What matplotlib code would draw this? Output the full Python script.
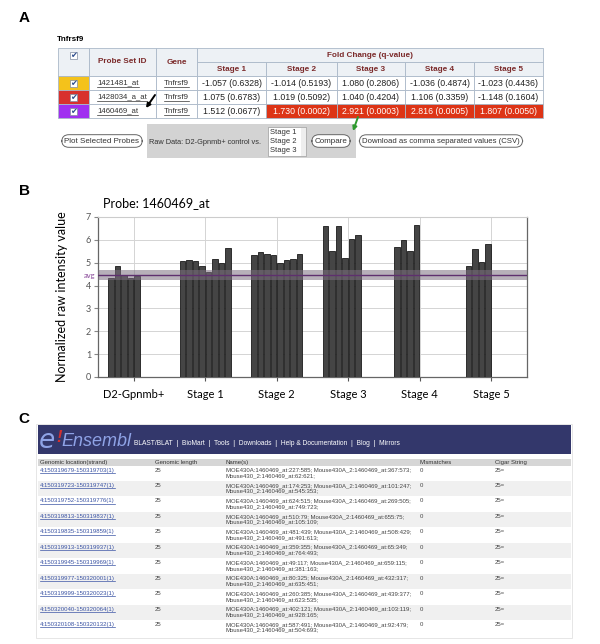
import numpy as np
import matplotlib
matplotlib.use('Agg')
import matplotlib.pyplot as plt
from matplotlib.patches import Rectangle

# ---- panel A data
gene = 'Tnfrsf9'
probe_ids = ['1421481_at', '1428034_a_at', '1460469_at']
row_colors = ['#f4c21b', '#d8312d', '#a02ff0']
stage_names = ['Stage 1', 'Stage 2', 'Stage 3', 'Stage 4', 'Stage 5']
fold_change = [['-1.057 (0.6328)', '-1.014 (0.5193)', '1.080 (0.2806)', '-1.036 (0.4874)', '-1.023 (0.4436)'],
               ['1.075 (0.6783)', '1.019 (0.5092)', '1.040 (0.4204)', '1.106 (0.3359)', '-1.148 (0.1604)'],
               ['1.512 (0.0677)', '1.730 (0.0002)', '2.921 (0.0003)', '2.816 (0.0005)', '1.807 (0.0050)']]
significant = [[False] * 5, [False] * 5, [False, True, True, True, True]]

# ---- panel B data
groups = ['D2-Gpnmb+', 'Stage 1', 'Stage 2', 'Stage 3', 'Stage 4', 'Stage 5']
d2_values = [4.32, 4.86, 4.45, 4.35, 4.44]
stage1_values = [5.07, 5.14, 5.07, 4.86, 4.61, 5.18, 4.99, 5.65]
stage2_values = [5.33, 5.46, 5.36, 5.33, 4.98, 5.10, 5.18, 5.40]
stage3_values = [6.59, 5.53, 6.59, 5.21, 6.02, 6.22]
stage4_values = [5.70, 6.00, 5.53, 6.66]
stage5_values = [4.85, 5.61, 5.05, 5.80]
avg_value = 4.46
avg_low, avg_high = 4.26, 4.66

# ---- panel C data
locations = ['4:150319679-150319703(1)', '4:150319723-150319747(1)', '4:150319752-150319776(1)',
             '4:150319813-150319837(1)', '4:150319835-150319859(1)', '4:150319913-150319937(1)',
             '4:150319945-150319969(1)', '4:150319977-150320001(1)', '4:150319999-150320023(1)',
             '4:150320040-150320064(1)', '4:150320108-150320132(1)']
names_1 = ['227:585', '174:253', '624:515', '510:79', '481:439', '359:355', '49:117', '80:325',
           '260:385', '402:121', '587:491']
names_2 = ['367:573', '101:247', '269:505', '655:75', '508:429', '65:349', '659:115', '432:317',
           '439:377', '103:119', '92:479']
names_3 = ['62:621', '545:353', '749:723', '105:109', '491:613', '764:493', '381:163', '635:451',
           '623:535', '928:165', '504:693']
menu_items = ['BLAST/BLAT', 'BioMart', 'Tools', 'Downloads', 'Help & Documentation', 'Blog', 'Mirrors']

plt.rcParams['font.family'] = ['Liberation Sans', 'DejaVu Sans']

fig = plt.figure(figsize=(6.0, 6.44), dpi=100)
ov = fig.add_axes([0, 0, 1, 1])
ov.set_xlim(0, 600)
ov.set_ylim(644, 0)
ov.axis('off')
renderer = fig.canvas.get_renderer()


def underline(t, color):
    bb = t.get_window_extent(renderer)
    (x0, y0), (x1, y1) = ov.transData.inverted().transform([[bb.x0, bb.y0], [bb.x1, bb.y1]])
    ov.plot([x0, x1], [y0 + 0.3, y0 + 0.3], color=color, lw=0.5)


def cell(x0, x1, y0, y1, fc, ec='#aab8c8'):
    ov.add_patch(Rectangle((x0, y0), x1 - x0, y1 - y0, fc=fc, ec=ec, lw=0.6))


def checkbox(cx, cy):
    ov.add_patch(Rectangle((cx - 3.5, cy - 3.5), 7, 7, fc='white', ec='#7f8ca0', lw=0.5))
    ov.text(cx + 0.3, cy + 0.2, '\u2714', color='#2f4f8f', fontsize=6, ha='center', va='center',
            family='DejaVu Sans')


# ================= panel A
ov.text(24, 18, 'A', fontsize=11, fontweight='bold', ha='center', va='center')
ov.text(57, 39, gene, fontsize=5.8, fontweight='bold', va='center')

col_x = [58, 89, 156, 197, 266, 337, 405, 474, 543]
row_y = [48, 62, 76, 90, 104, 118]
head_fc = '#edf1f5'
head_tc = '#7b2a2a'
fs_head = 5.9
fs_val = 6.3

cell(col_x[0], col_x[1], row_y[0], row_y[2], head_fc)
checkbox((col_x[0] + col_x[1]) / 2, 55)
cell(col_x[1], col_x[2], row_y[0], row_y[2], head_fc)
ov.text((col_x[1] + col_x[2]) / 2, 61, 'Probe Set ID', fontsize=fs_head, fontweight='bold',
        color=head_tc, ha='center', va='center')
cell(col_x[2], col_x[3], row_y[0], row_y[2], head_fc)
ov.text((col_x[2] + col_x[3]) / 2, 62, 'Gene', fontsize=fs_head, fontweight='bold',
        color=head_tc, ha='center', va='center')
cell(col_x[3], col_x[8], row_y[0], row_y[1], head_fc)
ov.text((col_x[3] + col_x[8]) / 2, 55, 'Fold Change (q-value)', fontsize=fs_head, fontweight='bold',
        color=head_tc, ha='center', va='center')
for j, s in enumerate(stage_names):
    cell(col_x[3 + j], col_x[4 + j], row_y[1], row_y[2], head_fc)
    ov.text((col_x[3 + j] + col_x[4 + j]) / 2, 69, s, fontsize=fs_head, fontweight='bold',
            color=head_tc, ha='center', va='center')

for i, pid in enumerate(probe_ids):
    y0, y1 = row_y[2 + i], row_y[3 + i]
    yc = (y0 + y1) / 2
    cell(col_x[0], col_x[1], y0, y1, row_colors[i])
    checkbox((col_x[0] + col_x[1]) / 2, yc)
    cell(col_x[1], col_x[2], y0, y1, 'white')
    t = ov.text(col_x[1] + 8, yc, pid, fontsize=5.6, color='#333333', va='center')
    underline(t, '#333333')
    cell(col_x[2], col_x[3], y0, y1, 'white')
    t = ov.text((col_x[2] + col_x[3]) / 2, yc, gene, fontsize=5.8, color='#333333', ha='center', va='center')
    underline(t, '#333333')
    for j in range(5):
        sig = significant[i][j]
        cell(col_x[3 + j], col_x[4 + j], y0, y1, '#dd3416' if sig else 'white')
        ov.text((col_x[3 + j] + col_x[4 + j]) / 2, yc, fold_change[i][j], fontsize=fs_val,
                color='white' if sig else '#222222', ha='center', va='center')

# buttons row
ov.add_patch(Rectangle((147, 124), 209, 34, fc='#d3d3d3', ec='none'))
btn = dict(boxstyle='round,pad=0.35,rounding_size=0.9', fc='white', ec='#666666', lw=0.7)
ov.text(102, 141, 'Plot Selected Probes', fontsize=5.8, color='#333333', ha='center', va='center', bbox=btn)
ov.text(149, 142, 'Raw Data: D2-Gpnmb+ control vs.', fontsize=5.3, color='#333333', va='center')
ov.add_patch(Rectangle((268, 127), 38, 29, fc='white', ec='#9a9a9a', lw=0.5))
ov.add_patch(Rectangle((301, 127.5), 4.5, 28, fc='#eeeeee', ec='none'))
for k, s in enumerate(stage_names[:3]):
    ov.text(270, 132 + k * 9, s, fontsize=5.5, color='#333333', va='center')
ov.text(331, 141, 'Compare', fontsize=5.8, color='#333333', ha='center', va='center', bbox=btn)
ov.text(441, 141, 'Download as comma separated values (CSV)', fontsize=5.6, color='#333333',
        ha='center', va='center', bbox=btn)
ov.annotate('', xy=(146, 108), xytext=(155, 95),
            arrowprops=dict(arrowstyle='-|>', mutation_scale=6, color='black', lw=1.4,
                            shrinkA=0, shrinkB=0))
ov.annotate('', xy=(353, 131), xytext=(358, 117),
            arrowprops=dict(arrowstyle='-|>', mutation_scale=6, color='#2e9a2e', lw=1.4,
                            shrinkA=0, shrinkB=0))

# ================= panel B
ov.text(24, 191, 'B', fontsize=11, fontweight='bold', ha='center', va='center')
ax = fig.add_axes([98 / 600, 1 - 377 / 644, (527 - 98) / 600, (377 - 217) / 644])
series = [d2_values, stage1_values, stage2_values, stage3_values, stage4_values, stage5_values]
slot = 0.091
for g, vals in enumerate(series):
    xs = [g - 4 * slot + (k + 0.5) * slot for k in range(len(vals))]
    ax.bar(xs, vals, width=0.072, color='#454545', edgecolor='#1a1a1a', linewidth=0.6, zorder=3)
ax.axhspan(avg_low, avg_high, color='#7d6f80', alpha=0.55, lw=0, zorder=4)
ax.axhline(avg_value, color='#5e2f6e', lw=1.0, zorder=5)
ax.text(-0.53, avg_value, 'avg', fontsize=5.5, color='#8a4a9a', ha='right', va='center',
        family=['Lato', 'DejaVu Sans'])
ax.set_xlim(-0.5, 5.5)
ax.set_ylim(0, 7)
ax.set_xticks(range(len(groups)))
ax.set_xticklabels(groups, family=['Lato', 'DejaVu Sans'], fontsize=8)
ax.set_yticks(range(8))
ax.set_yticklabels([str(v) for v in range(8)], family=['Lato', 'DejaVu Sans'], fontsize=6.5, color='#555555')
ax.grid(True, color='#d4d4d4', lw=0.7, zorder=0)
ax.tick_params(axis='x', length=3, color='#555555', pad=6)
ax.tick_params(axis='y', length=3, color='#888888', pad=2)
for side in ['left', 'bottom', 'right']:
    ax.spines[side].set_color('#666666')
    ax.spines[side].set_linewidth(0.9)
ax.spines['top'].set_color('#cccccc')
ax.set_ylabel('Normalized raw intensity value', family=['Lato', 'DejaVu Sans'], fontsize=9, labelpad=13)
ax.set_title('Probe: 1460469_at', loc='left', family=['Lato', 'DejaVu Sans'], fontsize=9,
             x=0.012, pad=7)

# ================= panel C
ov.text(24, 419, 'C', fontsize=11, fontweight='bold', ha='center', va='center')
ov.add_patch(Rectangle((36, 424), 536, 214, fc='white', ec='#e2e2e2', lw=0.6))
ov.add_patch(Rectangle((38, 425), 533, 29, fc='#33376b', ec='none'))
ov.text(39, 441, 'e', fontsize=19, style='italic', color='#8fa3e6', va='center', family='DejaVu Sans')
ov.text(56, 437, '!', fontsize=12, style='italic', color='#d03030', va='center', fontweight='bold')
ov.text(61, 441, 'Ensembl', fontsize=13, style='italic', color='#8fa3e6', va='center')
ov.text(134, 443, '  |  '.join(menu_items), fontsize=4.8, color='white', va='center')

ov.add_patch(Rectangle((38, 459), 533, 6.5, fc='#d6d6d6', ec='none'))
c_cols = [40, 155, 226, 420, 495]
fs_c = 4.3
for x, h in zip(c_cols, ['Genomic location(strand)', 'Genomic length', 'Name(s)', 'Mismatches', 'Cigar String']):
    ov.text(x, 462.3, h, fontsize=fs_c, color='#333333', va='center')

row_h = 15.45
for i, loc in enumerate(locations):
    y0 = 465.5 + i * row_h
    if i % 2 == 1:
        ov.add_patch(Rectangle((38, y0), 533, row_h, fc='#f0f0f0', ec='none'))
    t = ov.text(40, y0 + 4.5, loc, fontsize=fs_c, color='#3a53a4', va='center')
    underline(t, '#3a53a4')
    ov.text(155, y0 + 4.5, '25', fontsize=fs_c, color='#444444', va='center')
    ov.text(226, y0 + 4.5, 'MOE430A:1460469_at:%s; Mouse430A_2:1460469_at:%s;' % (names_1[i], names_2[i]),
            fontsize=fs_c, color='#444444', va='center')
    ov.text(226, y0 + 10.2, 'Mouse430_2:1460469_at:%s;' % names_3[i], fontsize=fs_c, color='#444444', va='center')
    ov.text(420, y0 + 4.5, '0', fontsize=fs_c, color='#444444', va='center')
    ov.text(495, y0 + 4.5, '25=', fontsize=fs_c, color='#444444', va='center')

fig.savefig('out.png', dpi=100)
